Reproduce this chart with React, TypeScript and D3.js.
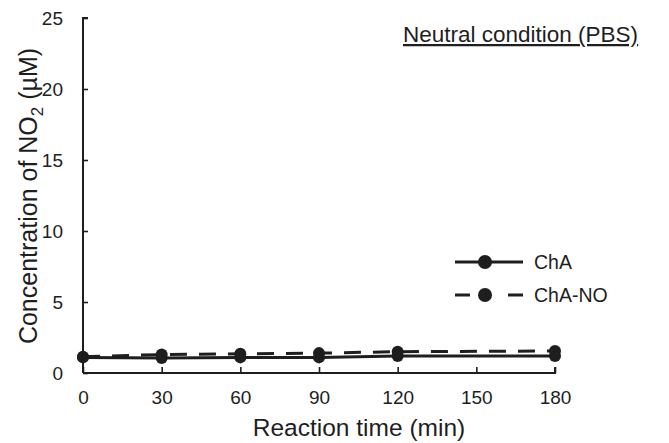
import React, { useEffect, useRef } from 'react';
import * as d3 from 'd3';

// reaction time (min) and NO2 concentration (uM)
const times = [0, 30, 60, 90, 120, 180];
const chaValues = [1.1, 1.05, 1.1, 1.1, 1.2, 1.2];
const chaNoValues = [1.15, 1.3, 1.35, 1.4, 1.5, 1.55];
const xTicks = [0, 30, 60, 90, 120, 150, 180];
const yTicks = [0, 5, 10, 15, 20, 25];
const seriesNames = ['ChA', 'ChA-NO'];

const INK = '#1e1e1e';
const FONT = 'Liberation Sans, Arial, sans-serif';

export default function App() {
  const ref = useRef<SVGSVGElement>(null);

  useEffect(() => {
    const svgWidth = 669, svgHeight = 443;
    const svg = d3.select(ref.current);
    svg.selectAll('*').remove();
    svg.attr('width', svgWidth).attr('height', svgHeight);

    const x = d3.scaleLinear().domain([0, 180]).range([83, 555]);
    const y = d3.scaleLinear().domain([0, 25]).range([373, 18]);

    // axes
    const xAxis = d3.axisBottom(x).tickValues(xTicks).tickSize(-6).tickPadding(18).tickFormat(d3.format('d'));
    const yAxis = d3.axisLeft(y).tickValues(yTicks).tickSize(-5).tickPadding(20).tickFormat(d3.format('d'));

    const gx = svg.append('g').attr('transform', `translate(0,${y(0)})`).call(xAxis);
    const gy = svg.append('g').attr('transform', `translate(${x(0)},0)`).call(yAxis);

    [gx, gy].forEach(g => {
      g.select('.domain').attr('stroke', INK).attr('stroke-width', 2);
      g.selectAll('.tick line').attr('stroke', INK).attr('stroke-width', 1.6);
      g.selectAll('.tick text').attr('fill', INK).attr('font-family', FONT).attr('font-size', 19);
    });
    gx.select('.domain').attr('d', `M${x(0)},0H${x(180)}V-6`);
    gy.select('.domain').attr('d', `M5,${y(25)}H0V${y(0)}`);

    // axis titles
    svg.append('text')
      .attr('x', 359).attr('y', 436)
      .attr('text-anchor', 'middle')
      .attr('font-family', FONT).attr('font-size', 24.5).attr('fill', INK)
      .text('Reaction time (min)');

    const yl = svg.append('text')
      .attr('transform', `translate(37,196) rotate(-90)`)
      .attr('text-anchor', 'middle')
      .attr('font-family', FONT).attr('font-size', 25).attr('fill', INK);
    yl.append('tspan').text('Concentration of NO');
    yl.append('tspan').attr('font-size', 17).attr('dy', 6).text('2');
    yl.append('tspan').attr('dy', -6).text(' (\u00b5M)');

    // panel title
    svg.append('text')
      .attr('x', 403).attr('y', 42)
      .attr('font-family', FONT).attr('font-size', 22.5).attr('fill', INK)
      .attr('text-decoration', 'underline')
      .text('Neutral condition (PBS)');

    // series
    const line = d3.line<number>().x((d, i) => x(times[i])).y(d => y(d));
    const series = [
      { name: seriesNames[0], values: chaValues, dash: null },
      { name: seriesNames[1], values: chaNoValues, dash: '17,12' },
    ];

    series.forEach(s => {
      svg.append('path')
        .datum(s.values)
        .attr('fill', 'none')
        .attr('stroke', INK)
        .attr('stroke-width', 3)
        .attr('stroke-dasharray', s.dash)
        .attr('d', line);
    });
    series.forEach(s => {
      svg.append('g').selectAll('circle')
        .data(s.values)
        .enter()
          .append('circle')
          .attr('cx', (d, i) => x(times[i]))
          .attr('cy', d => y(d))
          .attr('r', 6)
          .attr('fill', INK);
    });

    // legend
    const legend = svg.append('g').attr('transform', 'translate(455,262)');
    series.forEach((s, i) => {
      const row = legend.append('g').attr('transform', `translate(0,${i * 33})`);
      if (s.dash) {
        row.append('line').attr('x1', 0).attr('x2', 15).attr('stroke', INK).attr('stroke-width', 3);
        row.append('line').attr('x1', 53).attr('x2', 68).attr('stroke', INK).attr('stroke-width', 3);
      } else {
        row.append('line').attr('x1', 0).attr('x2', 68).attr('stroke', INK).attr('stroke-width', 3);
      }
      row.append('circle').attr('cx', 30).attr('r', 7).attr('fill', INK);
      row.append('text')
        .attr('x', 79).attr('y', 7)
        .attr('font-family', FONT).attr('font-size', 19.5).attr('fill', INK)
        .text(s.name);
    });
  }, []);

  return (
    <div style={{ position: 'absolute', left: 0, top: 0 }}>
      <svg ref={ref} style={{ display: 'block', background: '#fff' }}></svg>
    </div>
  );
}
